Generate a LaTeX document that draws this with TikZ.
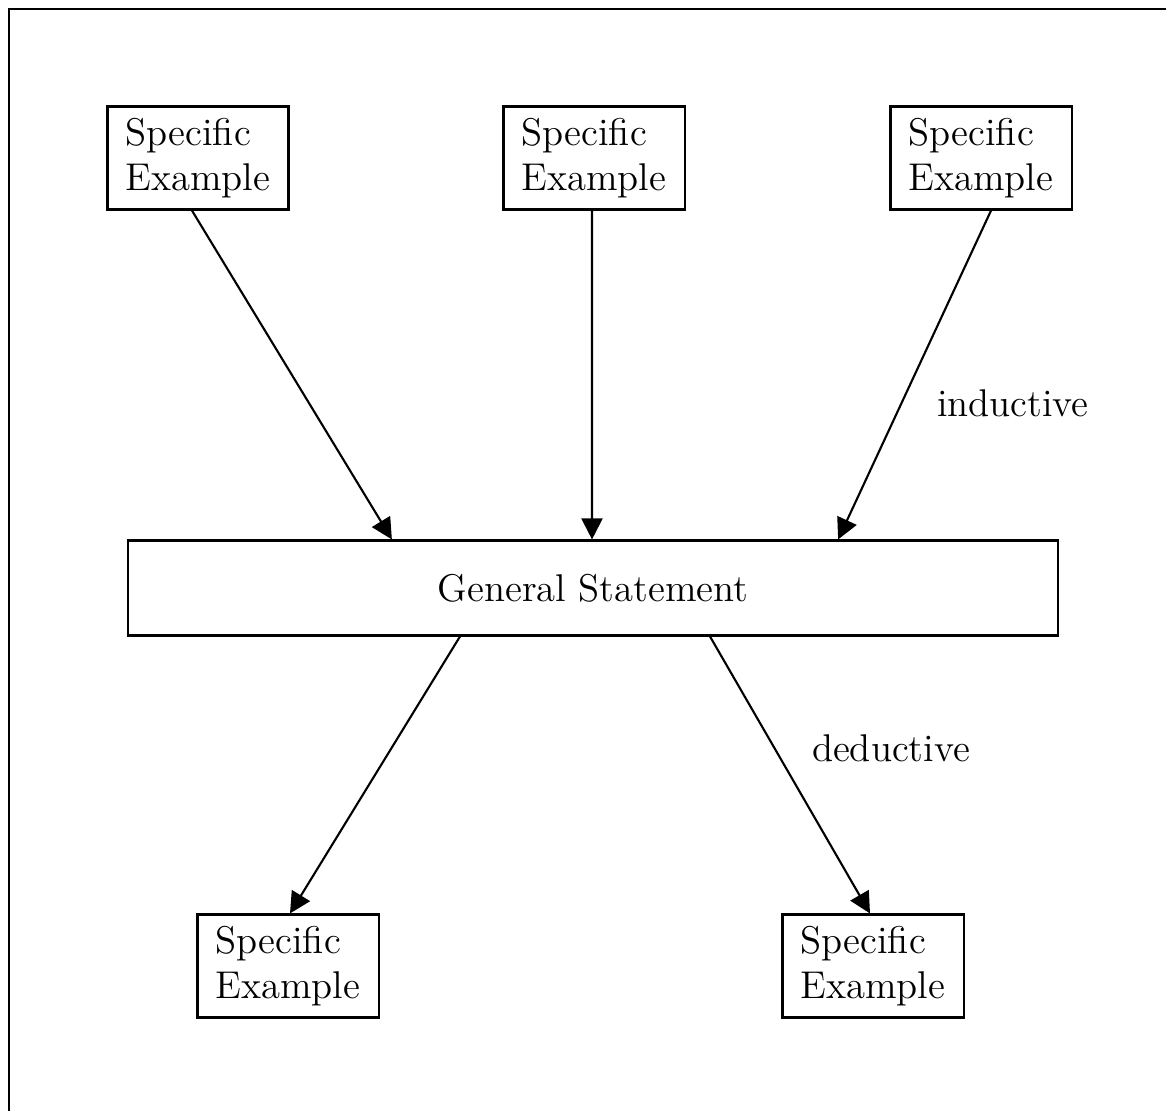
\documentclass[tikz,border=0pt]{standalone}
\usepackage{tikz}
\usetikzlibrary{arrows.meta}

\begin{document}
\begin{tikzpicture}[x=0.01cm, y=-0.01cm, line width=0.6pt, >={Triangle[length=2.1mm, width=2.1mm]}]
    \tikzstyle{example} = [rectangle, draw, minimum width=1.81cm, minimum height=1.03cm, align=left, inner sep=0pt, font=\fontsize{11}{13}\selectfont]
    \tikzstyle{statement} = [rectangle, draw, minimum width=9.3cm, minimum height=0.95cm, text centered, font=\fontsize{11}{13}\selectfont]
    \tikzstyle{label} = [font=\fontsize{11}{13}\selectfont]

    \useasboundingbox (0,0) rectangle (1166,1111);

    % Frame
    \draw (9,1111) -- (9,9) -- (1166,9);

    % Specific examples (top)
    \node [example] (spec_left) at (198,158) {Specific\\Example};
    \node [example] (spec_mid) at (594,158) {Specific\\Example};
    \node [example] (spec_right) at (981,158) {Specific\\Example};

    % General statement
    \node [statement] (general) at (593,588) {General Statement};

    % Specific examples (bottom)
    \node [example] (spec_down_left) at (288,966) {Specific\\Example};
    \node [example] (spec_down_right) at (873,966) {Specific\\Example};

    % Inductive arrows
    \draw [->] ([xshift=-0.06cm]spec_left.south) -- ([xshift=-2.01cm]general.north);
    \draw [->] ([xshift=-0.02cm]spec_mid.south) -- ([xshift=-0.01cm]general.north);
    \draw [->] ([xshift=0.1cm]spec_right.south) -- ([xshift=2.45cm]general.north);

    % Deductive arrows
    \draw [->] ([xshift=-1.33cm]general.south) -- ([xshift=0.02cm]spec_down_left.north);
    \draw [->] ([xshift=1.17cm]general.south) -- ([xshift=-0.03cm]spec_down_right.north);

    % Labels
    \node [label] (inductive) at (1013,403) {inductive};
    \node [label] (deductive) at (891,748) {deductive};
\end{tikzpicture}
\end{document}
